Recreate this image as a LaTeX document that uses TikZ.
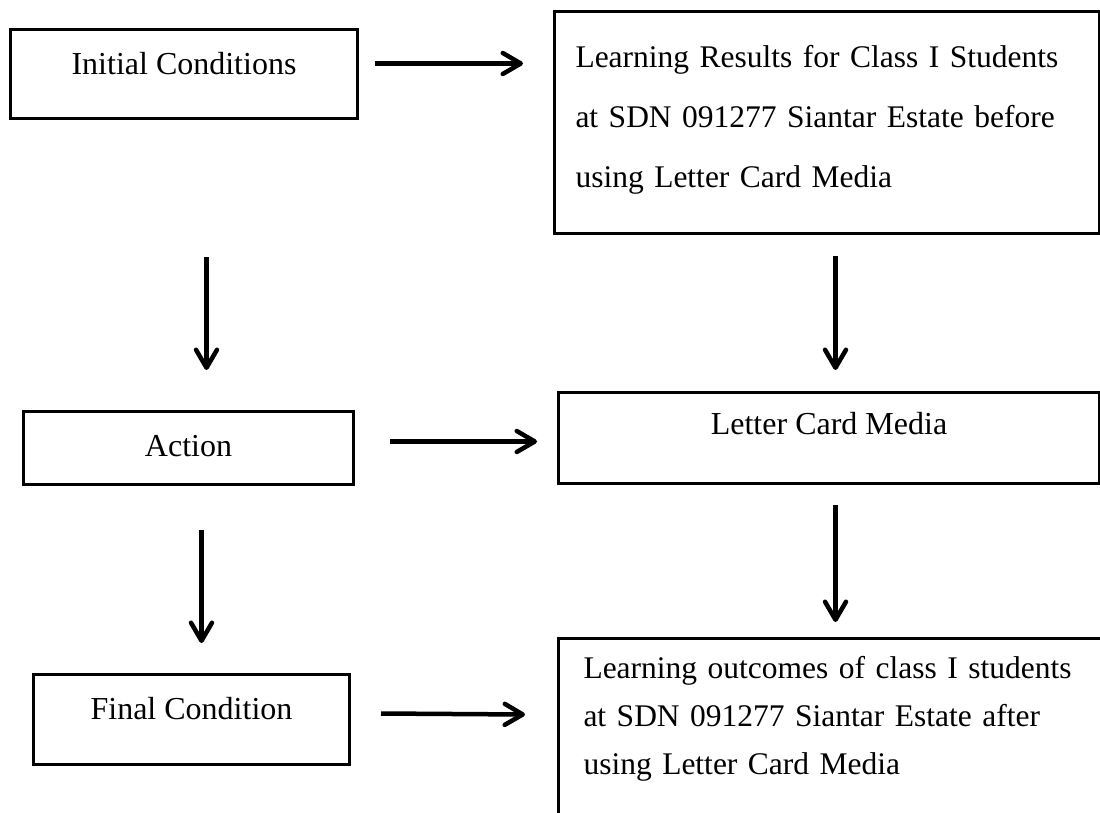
\documentclass[tikz,border=0pt]{standalone}
\usepackage{fontspec}
\setmainfont{Liberation Serif}
\usetikzlibrary{arrows.meta,calc}
\tikzset{
  box/.style={draw=black, line width=3pt, rectangle, inner sep=0pt, anchor=north west,
    font=\fontsize{32}{38}\selectfont},
  arr/.style={line width=4.5pt, -{Straight Barb[length=18pt,width=21pt,round]}},
}
\begin{document}
\begin{tikzpicture}[x=1pt,y=-1pt]
\clip (0,0) rectangle (1100,813);
\fill[white] (0,0) rectangle (1100,813);

\node[box, minimum width=347pt, text height=45pt, text depth=44pt] (A) at (9,28) {Initial Conditions};

\node[box, inner xsep=21pt, text width=503pt, align=left, text height=56pt, text depth=166pt,
  font=\fontsize{31.5}{60}\selectfont] (B) at (553,10)
  {Learning Results for Class I Students\\at SDN 091277 Siantar Estate before\\using Letter Card Media};

\node[box, minimum width=330pt, text height=45pt, text depth=28pt] (act) at (22,410) {Action};

\node[box, minimum width=541pt, text height=42pt, text depth=49pt] (lcm) at (557,391) {Letter Card Media};

\node[box, minimum width=316pt, text height=45pt, text depth=45pt] (fin) at (32,673) {Final Condition};

\node[box, inner xsep=25pt, text width=510pt, align=left, text height=40pt, text depth=300pt,
  font=\fontsize{31.5}{48}\selectfont] (out) at (557,637)
  {Learning outcomes of class I students\\at SDN 091277 Siantar Estate after\\using Letter Card Media};

\draw[arr] ($(A.east)+(16,-10.5)$) -- ($(B.west)+(-30,-59)$);
\draw[arr] ($(B.south)+(8.5,21)$) -- ($(lcm.north)+(6.5,-21)$);
\draw[arr] ($(A.south)+(22.5,137)$) -- ($(act.north)+(18,-40)$);
\draw[arr] ($(act.east)+(35,-6.5)$) -- ($(lcm.west)+(-20,3.5)$);
\draw[arr] ($(act.south)+(13,44)$) -- ($(fin.north)+(10,-30)$);
\draw[arr] ($(lcm.south)+(6.5,20)$) -- ($(out.north)+(-3,-15)$);
\draw[arr] ($(fin.east)+(30,-6)$) -- ($(out.west)+(-32,-94)$);
\end{tikzpicture}
\end{document}
